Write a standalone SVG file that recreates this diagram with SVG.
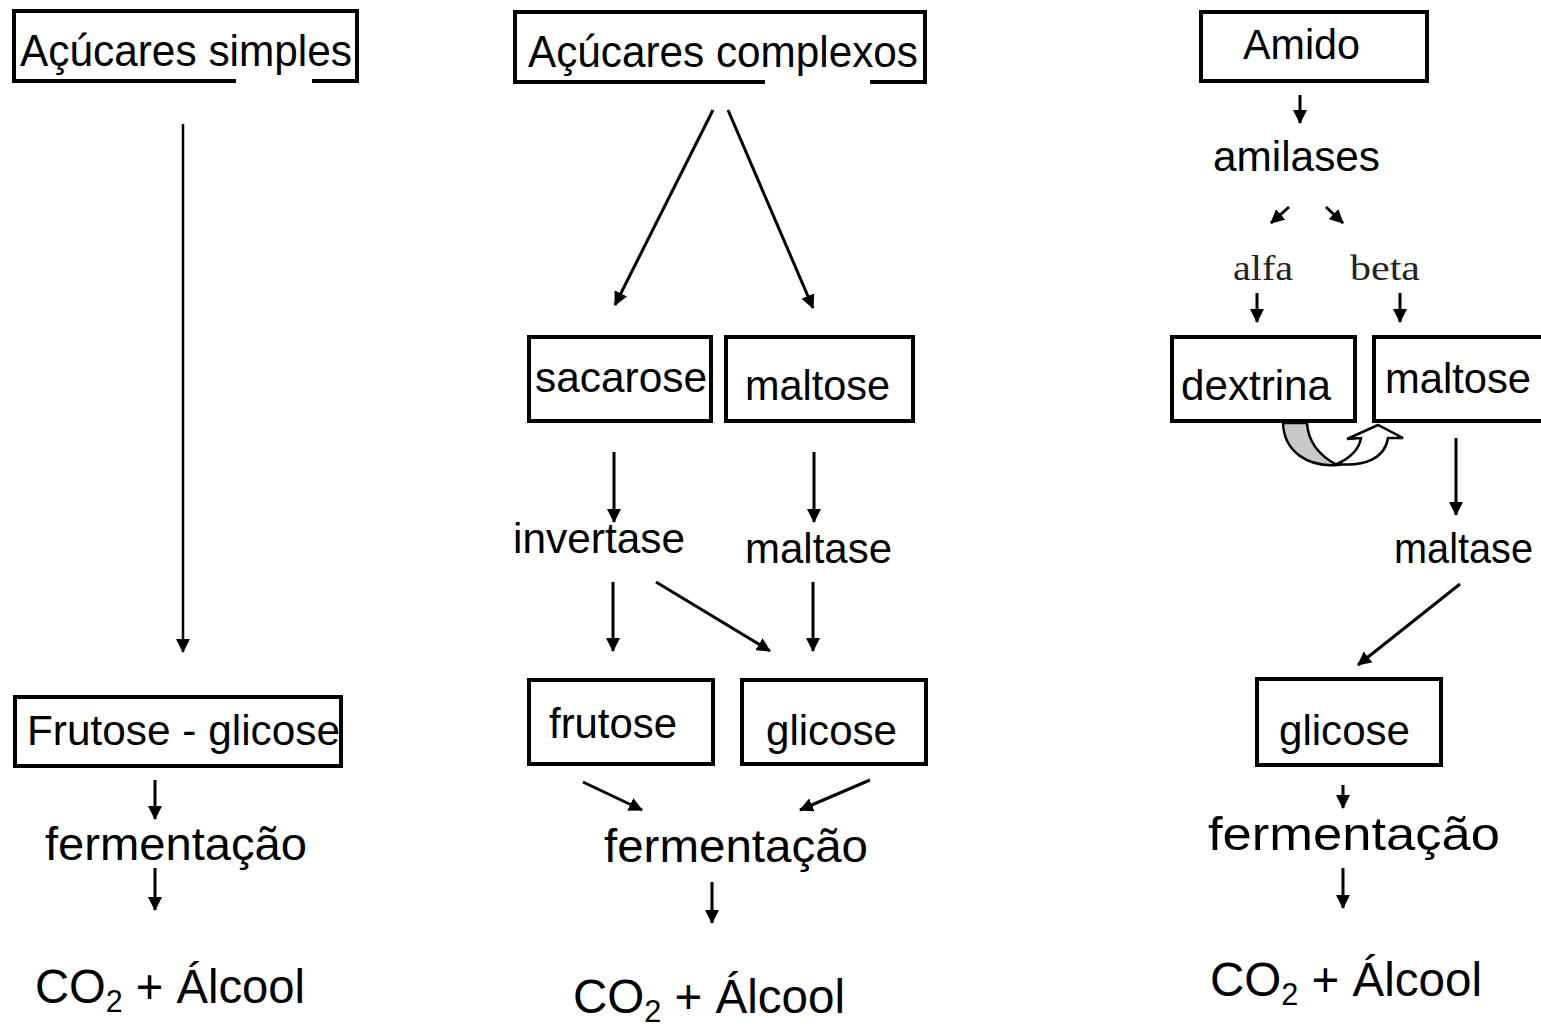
<svg xmlns="http://www.w3.org/2000/svg" width="1541" height="1027" viewBox="0 0 1541 1027">
<style>
.box{fill:#fff;stroke:#000;stroke-width:4}
.t{font-family:"Liberation Sans",Arial,sans-serif;font-size:42px;fill:#000}
.big{font-size:46px}
.hd{font-size:45px}
.co{font-size:48px}
.s{font-family:"Liberation Serif","Times New Roman",serif;font-size:36px;fill:#222}
.ln{stroke:#000;stroke-width:3;fill:none;marker-end:url(#ah)}
.thin{stroke-width:2.5}
.gap{fill:#fff;stroke:none}
</style>
<defs>
<marker id="ah" viewBox="0 0 14 14" markerWidth="14" markerHeight="14" refX="13" refY="7" orient="auto" markerUnits="userSpaceOnUse">
<path d="M0,0 L14,7 L0,14 z" fill="#000"/>
</marker>
</defs>
<rect width="1541" height="1027" fill="#fff"/>

<g id="connectors">
<line class="ln thin" x1="183" y1="124" x2="183" y2="652"/>
<line class="ln" x1="155" y1="780" x2="155" y2="819"/>
<line class="ln" x1="155" y1="868" x2="155" y2="910"/>
<line class="ln" x1="713" y1="110" x2="615" y2="305"/>
<line class="ln" x1="728" y1="110" x2="813" y2="308"/>
<line class="ln" x1="614" y1="452" x2="614" y2="522"/>
<line class="ln" x1="814" y1="452" x2="814" y2="522"/>
<line class="ln" x1="613" y1="582" x2="613" y2="651"/>
<line class="ln" x1="656" y1="582" x2="770" y2="651"/>
<line class="ln" x1="813" y1="582" x2="813" y2="651"/>
<line class="ln" x1="583" y1="782" x2="642" y2="810"/>
<line class="ln" x1="870" y1="780" x2="800" y2="810"/>
<line class="ln" x1="712" y1="882" x2="712" y2="923"/>
<line class="ln" x1="1300" y1="95" x2="1300" y2="123"/>
<line class="ln" x1="1289" y1="207" x2="1271" y2="223"/>
<line class="ln" x1="1326" y1="207" x2="1343" y2="223"/>
<line class="ln" x1="1257" y1="293" x2="1257" y2="322"/>
<line class="ln" x1="1400" y1="293" x2="1400" y2="322"/>
<line class="ln" x1="1456" y1="438" x2="1456" y2="515"/>
<line class="ln" x1="1460" y1="584" x2="1358" y2="665"/>
<line class="ln" x1="1343" y1="785" x2="1343" y2="808"/>
<line class="ln" x1="1343" y1="868" x2="1343" y2="908"/>
<path d="M1283 423 C1284 452 1308 467 1337 465 C1318 455 1308 440 1307 423 Z" fill="#c8c8c8" stroke="#000" stroke-width="2.5"/>
<path d="M1337 464 C1350 458 1359 450 1361 438 L1347 439 L1378 425 L1403 438 L1388 438 C1385 458 1365 467 1337 464 Z" fill="#fff" stroke="#000" stroke-width="2.5"/>
</g>

<g id="n-acucares-simples">
<rect class="box" x="14" y="11" width="343" height="70"/>
<rect class="gap" x="236" y="77" width="76" height="7"/>
<text class="t hd" x="20" y="66" textLength="332" lengthAdjust="spacingAndGlyphs">Açúcares simples</text>
</g>
<g id="n-frutose-glicose">
<rect class="box" x="15" y="697" width="326" height="69"/>
<text class="t" x="27" y="745" textLength="313" lengthAdjust="spacingAndGlyphs">Frutose - glicose</text>
</g>
<g id="n-ferm-left">
<text class="t big" x="45" y="860" textLength="262" lengthAdjust="spacingAndGlyphs">fermentação</text>
</g>
<g id="n-co2-left">
<text class="t co" x="35" y="1003" textLength="270" lengthAdjust="spacingAndGlyphs">CO<tspan font-size="31" dy="9">2</tspan><tspan dy="-9"> + Álcool</tspan></text>
</g>

<g id="n-acucares-complexos">
<rect class="box" x="515" y="12" width="410" height="70"/>
<rect class="gap" x="765" y="78" width="105" height="7"/>
<text class="t hd" x="528" y="67" textLength="390" lengthAdjust="spacingAndGlyphs">Açúcares complexos</text>
</g>
<g id="n-sacarose">
<rect class="box" x="529" y="337" width="182" height="84"/>
<text class="t" x="535" y="392" textLength="172" lengthAdjust="spacingAndGlyphs">sacarose</text>
</g>
<g id="n-maltose-mid">
<rect class="box" x="726" y="337" width="187" height="84"/>
<text class="t" x="745" y="400" textLength="145" lengthAdjust="spacingAndGlyphs">maltose</text>
</g>
<g id="n-invertase">
<text class="t" x="513" y="553" textLength="172" lengthAdjust="spacingAndGlyphs">invertase</text>
</g>
<g id="n-maltase-mid">
<text class="t" x="745" y="563" textLength="147" lengthAdjust="spacingAndGlyphs">maltase</text>
</g>
<g id="n-frutose">
<rect class="box" x="529" y="680" width="184" height="84"/>
<text class="t" x="549" y="738" textLength="128" lengthAdjust="spacingAndGlyphs">frutose</text>
</g>
<g id="n-glicose-mid">
<rect class="box" x="742" y="680" width="184" height="84"/>
<text class="t" x="766" y="745" textLength="131" lengthAdjust="spacingAndGlyphs">glicose</text>
</g>
<g id="n-ferm-mid">
<text class="t big" x="604" y="862" textLength="264" lengthAdjust="spacingAndGlyphs">fermentação</text>
</g>
<g id="n-co2-mid">
<text class="t co" x="573" y="1013" textLength="272" lengthAdjust="spacingAndGlyphs">CO<tspan font-size="31" dy="9">2</tspan><tspan dy="-9"> + Álcool</tspan></text>
</g>

<g id="n-amido">
<rect class="box" x="1201" y="12" width="226" height="69"/>
<text class="t" x="1243" y="59" textLength="117" lengthAdjust="spacingAndGlyphs">Amido</text>
</g>
<g id="n-amilases">
<text class="t" x="1213" y="171" textLength="167" lengthAdjust="spacingAndGlyphs">amilases</text>
</g>
<g id="n-alfa">
<text class="s" x="1233" y="280" textLength="60" lengthAdjust="spacingAndGlyphs">alfa</text>
</g>
<g id="n-beta">
<text class="s" x="1350" y="280" textLength="70" lengthAdjust="spacingAndGlyphs">beta</text>
</g>
<g id="n-dextrina">
<rect class="box" x="1172" y="337" width="183" height="84"/>
<text class="t" x="1181" y="400" textLength="150" lengthAdjust="spacingAndGlyphs">dextrina</text>
</g>
<g id="n-maltose-right">
<rect class="box" x="1374" y="337" width="190" height="84"/>
<text class="t" x="1385" y="393" textLength="146" lengthAdjust="spacingAndGlyphs">maltose</text>
</g>
<g id="n-maltase-right">
<text class="t" x="1394" y="563" textLength="139" lengthAdjust="spacingAndGlyphs">maltase</text>
</g>
<g id="n-glicose-right">
<rect class="box" x="1257" y="679" width="184" height="86"/>
<text class="t" x="1279" y="745" textLength="131" lengthAdjust="spacingAndGlyphs">glicose</text>
</g>
<g id="n-ferm-right">
<text class="t big" x="1208" y="850" textLength="292" lengthAdjust="spacingAndGlyphs">fermentação</text>
</g>
<g id="n-co2-right">
<text class="t co" x="1210" y="996" textLength="272" lengthAdjust="spacingAndGlyphs">CO<tspan font-size="31" dy="9">2</tspan><tspan dy="-9"> + Álcool</tspan></text>
</g>
</svg>
